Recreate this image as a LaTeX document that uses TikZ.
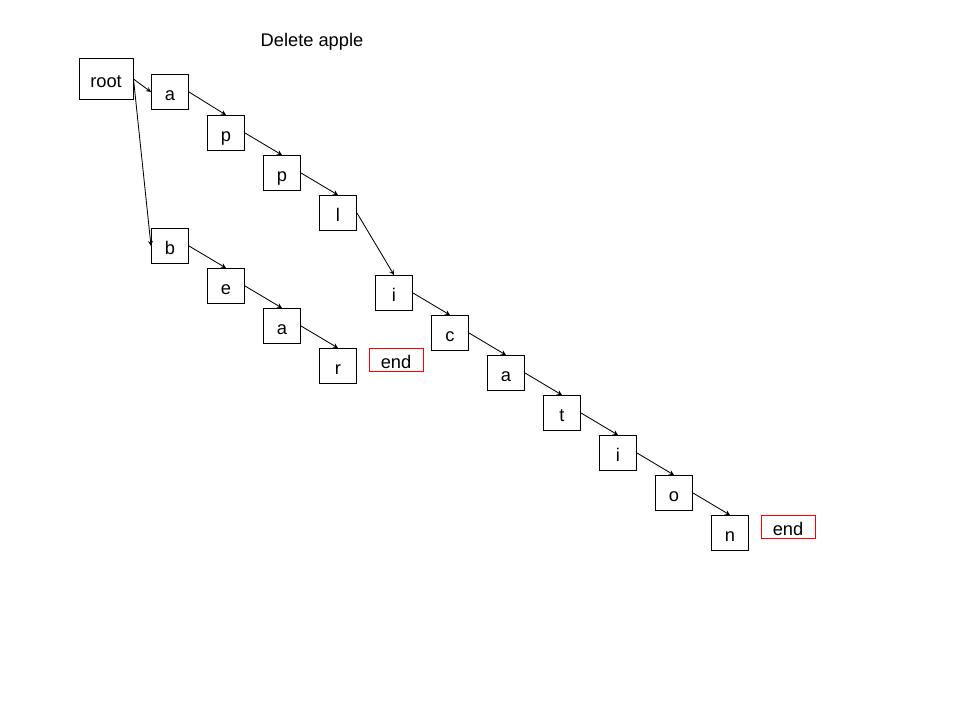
\documentclass[tikz,border=0pt]{standalone}
\usepackage{fontspec}
\setmainfont{Liberation Sans}
\begin{document}
\begin{tikzpicture}[>=stealth,x=0.025cm,y=-0.025cm,
    lbl/.style={font=\fontsize{13}{15}\selectfont,text height=13pt,text depth=1pt},
    box/.style={lbl,draw,line width=0.7pt,minimum width=0.925cm,minimum height=0.875cm,inner sep=0pt},
    endbox/.style={lbl,draw=red,line width=0.6pt,minimum width=1.35cm,minimum height=0.575cm,inner sep=0pt}]
        \useasboundingbox (0,0) rectangle (960,720);
        \node[lbl] (title) at (312,38) {Delete apple};
        \node[box,minimum width=1.35cm,minimum height=1cm] (root) at (106,79) {root};
        % apple / application
        \node[box] (a1) at (170,92) {a};
        \node[box] (p1) at (226,133) {p};
        \node[box] (p2) at (282,173) {p};
        \node[box] (l1) at (338,213) {l};
        \node[box] (i1) at (394,293) {i};
        \node[box] (c1) at (450,333) {c};
        \node[box] (a2) at (506,373) {a};
        \node[box] (t1) at (562,413) {t};
        \node[box] (i2) at (618,453) {i};
        \node[box] (o1) at (674,493) {o};
        \node[box] (n1) at (730,533) {n};
        \node[endbox] (end2) at (788,527) {end};
        % bear
        \node[box] (b1) at (170,246) {b};
        \node[box] (e1) at (226,286) {e};
        \node[box] (a3) at (282,326) {a};
        \node[box] (r1) at (338,366) {r};
        \node[endbox] (end1) at (396,360) {end};
        \draw[->,line width=0.6pt] (root.east) -- (a1.west);
        \draw[->,line width=0.6pt] (root.east) -- (b1.west);
        \draw[->,line width=0.6pt] (a1.east) -- (p1.north);
        \draw[->,line width=0.6pt] (p1.east) -- (p2.north);
        \draw[->,line width=0.6pt] (p2.east) -- (l1.north);
        \draw[->,line width=0.6pt] (l1.east) -- (i1.north);
        \draw[->,line width=0.6pt] (i1.east) -- (c1.north);
        \draw[->,line width=0.6pt] (c1.east) -- (a2.north);
        \draw[->,line width=0.6pt] (a2.east) -- (t1.north);
        \draw[->,line width=0.6pt] (t1.east) -- (i2.north);
        \draw[->,line width=0.6pt] (i2.east) -- (o1.north);
        \draw[->,line width=0.6pt] (o1.east) -- (n1.north);
        \draw[->,line width=0.6pt] (b1.east) -- (e1.north);
        \draw[->,line width=0.6pt] (e1.east) -- (a3.north);
        \draw[->,line width=0.6pt] (a3.east) -- (r1.north);
    \end{tikzpicture}
\end{document}
